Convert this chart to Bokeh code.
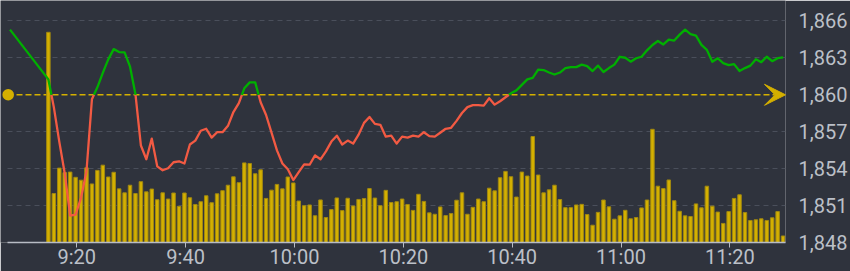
from bokeh.plotting import figure
from bokeh.models import (ColumnDataSource, Range1d, FixedTicker, NumeralTickFormatter,
                          Arrow, VeeHead, BoxAnnotation)
from bokeh.embed import file_html
from bokeh.resources import INLINE

# ---------------- data ----------------
PRE_OPEN_TIME = "9:00"
PRE_OPEN_PRICE = 1869.85
SESSION_START = "9:15"          # first one-minute point / bar
REF_PRICE = 1860

PRICES = [
    1861.25, 1859.00, 1856.20, 1853.63, 1850.19, 1850.27, 1851.63, 1853.79, 1859.64, 1860.61,
    1861.78, 1862.88, 1863.71, 1863.47, 1863.44, 1862.29, 1860.05, 1855.88, 1854.76, 1856.44,
    1854.19, 1853.87, 1854.03, 1854.52, 1854.60, 1854.42, 1855.96, 1856.28, 1857.08, 1857.24,
    1856.52, 1856.96, 1856.96, 1857.48, 1858.60, 1859.32, 1860.53, 1861.01, 1861.01, 1859.40,
    1858.36, 1856.92, 1855.48, 1854.42, 1853.95, 1853.07, 1853.71, 1854.35, 1854.32, 1855.08,
    1854.76, 1855.40, 1856.20, 1856.68, 1855.96, 1856.28, 1856.04, 1856.76, 1857.72, 1858.20,
    1857.64, 1857.56, 1856.60, 1856.68, 1856.04, 1856.60, 1856.52, 1856.68, 1856.60, 1856.96,
    1856.64, 1856.60, 1856.92, 1857.24, 1857.32, 1857.88, 1858.52, 1859.00, 1859.16, 1859.16,
    1859.12, 1859.72, 1859.20, 1859.48, 1859.80, 1860.12, 1860.36, 1860.81, 1861.25, 1861.37,
    1862.05, 1862.01, 1861.81, 1861.65, 1861.81, 1862.17, 1862.25, 1862.25, 1862.45, 1862.33,
    1861.93, 1862.37, 1861.85, 1862.17, 1862.45, 1863.09, 1863.01, 1862.69, 1862.97, 1863.09,
    1863.61, 1864.05, 1864.37, 1864.09, 1864.49, 1864.41, 1864.89, 1865.29, 1864.93, 1864.81,
    1864.05, 1863.65, 1862.69, 1862.97, 1862.57, 1862.41, 1862.49, 1861.93, 1862.17, 1862.37,
    1862.89, 1862.65, 1863.09, 1862.73, 1862.97, 1863.05,
]

VOLUMES = [  # million shares per minute
    21.28, 4.96, 7.53, 7.08, 7.13, 6.60, 6.31, 7.56, 5.93, 7.30,
    7.83, 6.63, 7.11, 5.43, 5.03, 5.80, 4.96, 6.16, 5.13, 5.41,
    4.33, 5.03, 4.40, 5.01, 3.66, 5.01, 4.53, 3.85, 4.13, 4.73,
    4.03, 4.93, 5.25, 5.80, 6.65, 6.06, 8.06, 8.00, 6.96, 7.36,
    4.46, 5.30, 5.88, 5.43, 6.63, 6.03, 4.20, 3.73, 3.80, 2.71,
    4.31, 2.53, 3.33, 4.51, 3.23, 4.48, 3.70, 4.36, 4.45, 5.46,
    4.50, 3.73, 5.28, 4.05, 4.13, 4.40, 3.85, 3.25, 4.88, 4.16,
    3.00, 2.86, 3.60, 2.73, 2.93, 4.28, 5.03, 2.86, 3.56, 4.40,
    4.13, 5.50, 5.23, 6.56, 7.20, 6.66, 4.60, 7.13, 6.73, 10.73,
    6.83, 5.03, 5.33, 5.80, 4.35, 3.53, 3.53, 3.80, 3.86, 2.83,
    1.75, 3.05, 4.30, 3.61, 2.36, 2.70, 3.26, 2.40, 2.53, 3.50,
    4.30, 11.46, 5.70, 5.46, 6.33, 4.23, 3.16, 2.70, 2.63, 3.91,
    3.51, 5.70, 3.68, 3.08, 1.93, 3.13, 4.46, 4.83, 3.03, 2.23,
    2.30, 2.40, 2.23, 2.50, 3.13, 0.66,
]

Y_TICKS = [1848, 1851, 1854, 1857, 1860, 1863, 1866]
X_TICK_LABELS = ["9:20", "9:40", "10:00", "10:20", "10:40", "11:00", "11:20"]

# ---------------- style / layout ----------------
BG = "#2f333d"
GRID = "#4a4f5b"
TEXT = "#bcc0c8"
AXIS = "#b8bcc5"
GREEN = "#00b000"
RED = "#f25a43"
YEL = "#d4b000"
BAR_EDGE = "#a08810"
FONT = "Roboto"
FONT_SIZE = "20px"

W, H = 850, 271
B_LEFT, B_RIGHT, B_TOP, B_BOTTOM = 0, 65, 0, 26
FRAME_W = W - B_LEFT - B_RIGHT
FRAME_H = H - B_TOP - B_BOTTOM
PX_PER_MIN = 5.442
FIRST_TICK_PX = 76.3 - B_LEFT           # 9:20 tick from frame left
AXIS_START_PX = 7.3 - B_LEFT            # where axis line / grid begin
LINE_START_PX = 9.5 - B_LEFT            # where the price line becomes visible
PX_TOP_TICK = 20.7 - B_TOP              # 1,866 gridline from frame top
PX_PER_UNIT = (FRAME_H - PX_TOP_TICK) / (Y_TICKS[-1] - Y_TICKS[0])
VOL_PX_PER_UNIT = 10.0
DATA_SHIFT = -0.22                      # minutes, points sit slightly left of the tick


def to_min(s):
    h, m = s.split(":")
    return int(h) * 60 + int(m)


x_ticks = [to_min(s) for s in X_TICK_LABELS]
x_start = x_ticks[0] - FIRST_TICK_PX / PX_PER_MIN
x_end = x_start + FRAME_W / PX_PER_MIN
x_axis_start = x_start + AXIS_START_PX / PX_PER_MIN
x_line_start = x_start + LINE_START_PX / PX_PER_MIN
y_start = Y_TICKS[0]
y_end = y_start + FRAME_H / PX_PER_UNIT

t0 = to_min(SESSION_START)
times = [t0 + i + DATA_SHIFT for i in range(len(PRICES))]
raw_x = [to_min(PRE_OPEN_TIME) + DATA_SHIFT] + times
raw_y = [PRE_OPEN_PRICE] + PRICES


def clip_left(xs, ys, xmin):
    """Cut the polyline at xmin (interpolating the boundary point)."""
    out_x, out_y = [], []
    for i in range(len(xs)):
        if xs[i] >= xmin:
            if i > 0 and xs[i - 1] < xmin:
                f = (xmin - xs[i - 1]) / (xs[i] - xs[i - 1])
                out_x.append(xmin)
                out_y.append(ys[i - 1] + f * (ys[i] - ys[i - 1]))
            out_x.append(xs[i])
            out_y.append(ys[i])
    return out_x, out_y


def split_runs(xs, ys, ref):
    runs = []
    above = ys[0] >= ref
    cx, cy = [xs[0]], [ys[0]]
    for i in range(1, len(xs)):
        x0, y0, x1, y1 = xs[i - 1], ys[i - 1], xs[i], ys[i]
        a1 = y1 >= ref
        if a1 != above:
            xc = x0 + (ref - y0) * (x1 - x0) / (y1 - y0)
            cx.append(xc)
            cy.append(ref)
            runs.append((above, cx, cy))
            cx, cy = [xc], [ref]
            above = a1
        cx.append(x1)
        cy.append(y1)
    runs.append((above, cx, cy))
    return runs


line_x, line_y = clip_left(raw_x, raw_y, x_line_start)
runs = split_runs(line_x, line_y, REF_PRICE)
green = ColumnDataSource(dict(xs=[r[1] for r in runs if r[0]], ys=[r[2] for r in runs if r[0]]))
red = ColumnDataSource(dict(xs=[r[1] for r in runs if not r[0]], ys=[r[2] for r in runs if not r[0]]))
bars = ColumnDataSource(dict(t=times, vol=VOLUMES))

p = figure(width=W, height=H, output_backend="svg", toolbar_location=None,
           x_range=Range1d(x_start, x_end), y_range=Range1d(y_start, y_end),
           y_axis_location="right",
           min_border_left=B_LEFT, min_border_right=B_RIGHT,
           min_border_top=B_TOP, min_border_bottom=B_BOTTOM)
p.extra_y_ranges = {"vol": Range1d(0, FRAME_H / VOL_PX_PER_UNIT)}
p.background_fill_color = BG
p.border_fill_color = BG
p.outline_line_color = None

# grid
p.xgrid.visible = False
yg = p.ygrid[0]
yg.ticker = FixedTicker(ticks=[t for t in Y_TICKS if t not in (Y_TICKS[0], REF_PRICE)])
yg.grid_line_color = GRID
yg.grid_line_dash = "5 4"
yg.grid_line_width = 1
if "cross_bounds" in yg.properties():
    yg.cross_bounds = (x_axis_start, x_end)

# x axis
xa = p.xaxis[0]
xa.bounds = (x_axis_start, x_end)
xa.ticker = FixedTicker(ticks=x_ticks)
xa.major_label_overrides = {t: s for t, s in zip(x_ticks, X_TICK_LABELS)}
xa.axis_line_color = AXIS
xa.axis_line_width = 1.5
xa.major_tick_line_color = AXIS
xa.major_tick_line_width = 1
xa.major_tick_out = 0      # tick drawn outward through a negative inner length,
xa.major_tick_in = -5      # so that it does not add to the axis' layout extent
xa.minor_tick_out = 0
xa.minor_tick_in = 0
xa.major_label_standoff = 2
xa.major_label_text_color = TEXT
xa.major_label_text_font = FONT
xa.major_label_text_font_size = FONT_SIZE

# y axis (right)
ya = p.yaxis[0]
ya.ticker = FixedTicker(ticks=Y_TICKS)
ya.formatter = NumeralTickFormatter(format="0,0")
ya.axis_line_color = None
ya.major_tick_line_color = None
ya.major_tick_out = 0
ya.major_tick_in = 0
ya.minor_tick_out = 0
ya.minor_tick_in = 0
ya.major_label_standoff = 13
ya.major_label_text_color = TEXT
ya.major_label_text_font = FONT
ya.major_label_text_font_size = FONT_SIZE

# reference line with arrow and dot
p.add_layout(Arrow(end=VeeHead(size=21, fill_color=YEL, line_color=YEL, line_width=1),
                   x_start=x_start + 16 / PX_PER_MIN, y_start=REF_PRICE,
                   x_end=x_end, y_end=REF_PRICE,
                   line_color=YEL, line_width=1.5, line_dash="6 3", level="underlay"))
r_px = 5.8
cx_ref = x_start + 7.7 / PX_PER_MIN
p.add_layout(BoxAnnotation(left=cx_ref - r_px / PX_PER_MIN, right=cx_ref + r_px / PX_PER_MIN,
                           bottom=REF_PRICE - r_px / PX_PER_UNIT, top=REF_PRICE + r_px / PX_PER_UNIT,
                           fill_color=YEL, fill_alpha=1, line_color=None, border_radius=6))

# volume bars
p.vbar(x="t", top="vol", width=0.64, source=bars, y_range_name="vol",
       fill_color=YEL, line_color=BAR_EDGE, line_width=1)

# price line
p.multi_line(xs="xs", ys="ys", source=red, line_color=RED, line_width=2.3, line_join="round")
p.multi_line(xs="xs", ys="ys", source=green, line_color=GREEN, line_width=2.3, line_join="round")

open("out.html", "w").write(file_html(p, INLINE))
